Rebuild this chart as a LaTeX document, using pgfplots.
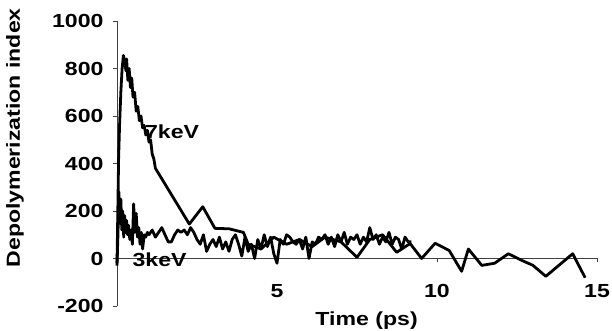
\documentclass[border=0pt]{standalone}
\usepackage{pgfplots}
\pgfplotsset{compat=1.18}
\usepackage{fontspec}
\setmainfont{Liberation Sans}
\newfontfamily\wide[FakeStretch=1.22]{Liberation Sans}
\newcommand\lf{\wide\bfseries\fontsize{19}{22}\selectfont}
\begin{document}
\begin{tikzpicture}
\begin{axis}[
  scale only axis,
  width=480bp, height=285bp,
  xmin=0, xmax=15, ymin=-200, ymax=1000,
  axis y line=left, axis x line=middle,
  axis line style={-, black!75, line width=0.7pt},
  xtick={0,5,10,15}, xticklabels={0,5,10,15},
  ytick={-200,0,200,400,600,800,1000},
  yticklabels={-200,0,200,400,600,800,1000},
  tick style={black!75, line width=0.6pt},
  major tick length=4bp,
  ytick align=outside, xtick align=outside,
  tick label style={font=\lf},
  xticklabel style={yshift=-18bp},
  yticklabel style={xshift=-6bp},
  clip=false,
]
\coordinate (SW) at (rel axis cs:0,0);
\coordinate (NE) at (rel axis cs:1,1);
\coordinate (YL) at (rel axis cs:0,0.59);
\coordinate (XL) at (rel axis cs:0.52,0);
% 7keV
\addplot[black, line width=2.8pt, line join=round] coordinates {
(0,-20) (0.02,150) (0.05,420) (0.08,560) (0.12,700) (0.16,800) (0.2,855)
(0.24,830) (0.28,790) (0.3,840) (0.34,750) (0.38,800) (0.42,720) (0.46,760)
(0.5,680) (0.55,700) (0.6,620) (0.65,640) (0.7,580) (0.75,600) (0.8,550)
(0.85,560) (0.9,520) (0.95,540) (1.0,490) (1.05,500) (1.1,440) (1.15,420)
(1.2,380) (2.26,145) (2.68,218) (3.06,127) (3.5,125) (3.95,110) (4.1,60)
(4.5,40) (4.9,90) (5.3,60) (5.7,80) (6.1,50) (6.5,90) (7.0,70) (7.5,5)
(7.9,80) (8.3,100) (8.74,26) (9.16,63) (9.52,0) (9.94,64) (10.38,34)
(10.77,-54) (10.98,40) (11.4,-29) (11.8,-20) (12.23,20) (12.65,-8)
(13.0,-29) (13.4,-75) (14.24,20) (14.63,-81)
};
% 3keV
\addplot[black, line width=2.8pt, line join=round] coordinates {
(0,-30) (0.03,100) (0.06,280) (0.09,150) (0.12,250) (0.15,120) (0.18,200)
(0.21,90) (0.24,180) (0.27,110) (0.3,160) (0.33,100) (0.36,140) (0.4,80)
(0.44,120) (0.48,60) (0.52,230) (0.56,110) (0.6,190) (0.64,90) (0.68,130)
(0.72,60) (0.76,110) (0.8,40) (0.85,100) (0.9,90) (0.95,110) (1.0,100)
(1.1,120) (1.2,90) (1.3,110) (1.4,130) (1.5,100) (1.6,70) (1.7,70)
(1.8,100) (1.9,120) (2.0,110) (2.1,120) (2.2,100) (2.3,130) (2.4,110)
(2.5,80) (2.6,60) (2.7,100) (2.8,30) (2.9,60) (3.0,80) (3.1,50) (3.2,90)
(3.3,40) (3.4,70) (3.5,30) (3.6,80) (3.7,100) (3.8,60) (3.9,10) (4.0,90)
(4.1,30) (4.2,60) (4.3,0) (4.4,80) (4.5,40) (4.6,100) (4.7,50) (4.8,90)
(4.9,20) (5.0,-20) (5.1,80) (5.2,60) (5.3,100) (5.4,90) (5.5,70) (5.6,60)
(5.7,80) (5.8,40) (5.9,90) (6.0,0) (6.1,70) (6.2,60) (6.3,90) (6.4,80)
(6.5,100) (6.6,60) (6.7,90) (6.8,50) (6.9,100) (7.0,70) (7.1,110) (7.2,60)
(7.3,90) (7.4,80) (7.5,100) (7.6,60) (7.7,90) (7.8,70) (7.9,130) (8.0,80)
(8.1,100) (8.2,60) (8.3,90) (8.4,70) (8.5,110) (8.6,60) (8.7,90) (8.8,80)
(8.9,40) (9.0,90) (9.1,70) (9.2,70)
};
\node[font=\lf] at (axis cs:1.72,532) {7keV};
\node[font=\lf] at (axis cs:1.33,-6) {3keV};
\end{axis}
\node[font=\lf, rotate=90] at ([xshift=-102bp]YL) {Depolymerization index};
\node[font=\lf] at ([yshift=-15bp]XL) {Time (ps)};
\pgfresetboundingbox
\path[use as bounding box] ([shift={(-117bp,-25bp)}]SW) rectangle ([shift={(15bp,21bp)}]NE);
\end{tikzpicture}
\end{document}
